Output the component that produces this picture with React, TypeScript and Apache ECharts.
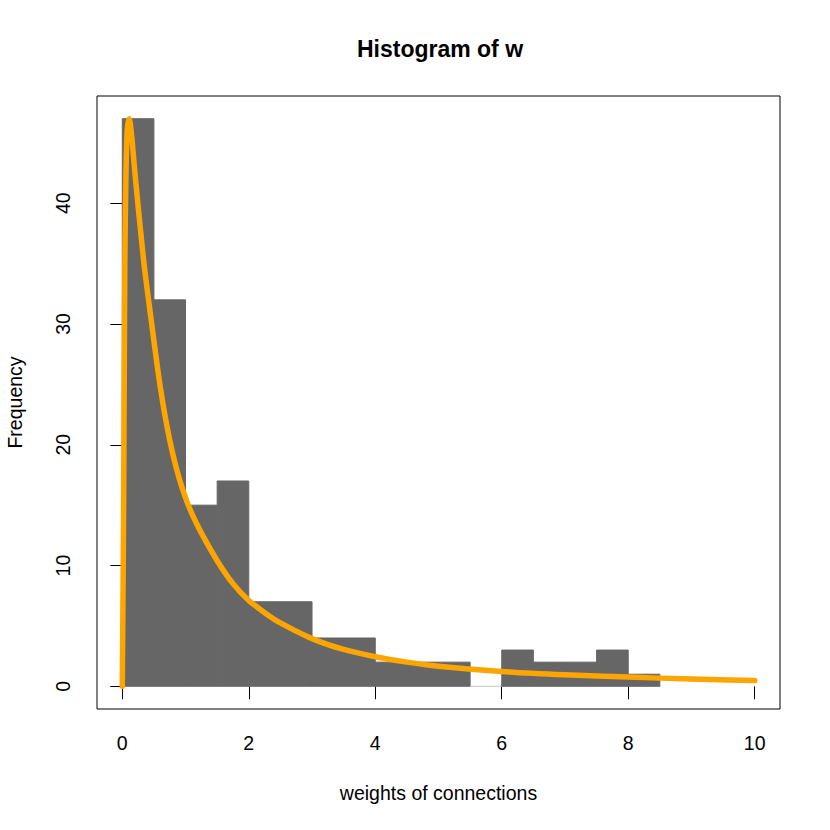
import React, { useEffect, useRef } from "react";
import * as echarts from "echarts";

// Histogram bin breaks and counts
const breaks = [0, 0.5, 1, 1.5, 2, 2.5, 3, 3.5, 4, 4.5, 5, 5.5, 6, 6.5, 7, 7.5, 8, 8.5];
const counts = [47, 32, 15, 17, 7, 7, 4, 4, 2, 2, 2, 0, 3, 2, 2, 3, 1];

// Fitted curve
const curveX = [0, 0.02, 0.04, 0.06, 0.08, 0.11, 0.14, 0.2, 0.27, 0.35, 0.44, 0.5, 0.6, 0.7, 0.8, 0.9, 1.0, 1.1, 1.25, 1.5, 1.75, 2.0, 2.25, 2.5, 3.0, 3.5, 4.0, 4.5, 5.0, 6.0, 7.0, 8.0, 9.0, 10.0];
const curveY = [0, 14, 35, 43, 46.2, 47, 46, 42.5, 38.7, 34.7, 31.0, 28.6, 24.8, 21.7, 19.2, 17.2, 15.6, 14.3, 12.7, 10.4, 8.5, 7.1, 6.1, 5.25, 3.95, 3.05, 2.45, 2.0, 1.66, 1.22, 0.95, 0.76, 0.6, 0.47];

const xTicks = [0, 2, 4, 6, 8, 10];
const yTicks = [0, 10, 20, 30, 40];

const titleText = "Histogram of w";
const xLabel = "weights of connections";
const yLabel = "Frequency";

const FONT = '"Liberation Sans", Arial, Helvetica, sans-serif';

export default function App() {
  const ref = useRef<HTMLDivElement>(null);
  useEffect(() => {
    if (!ref.current) return;
    const chart = echarts.init(ref.current, null, { renderer: "svg" });
    const histData = counts.map((c, i) => [breaks[i], breaks[i + 1], c]);
    const lineData = curveX.map((x, i) => [x, curveY[i]]);
    chart.setOption({
      animation: false,
      backgroundColor: "#ffffff",
      grid: {
        left: 97,
        top: 96,
        width: 683,
        height: 613,
        show: true,
        borderColor: "#000000",
        borderWidth: 1,
        backgroundColor: "transparent",
        z: 10,
      },
      xAxis: {
        type: "value",
        min: -0.4,
        max: 10.4,
        axisLine: { show: false },
        splitLine: { show: false },
        axisTick: {
          show: true,
          inside: false,
          length: 13,
          customValues: xTicks,
          lineStyle: { color: "#000000", width: 1 },
        },
        axisLabel: {
          show: true,
          customValues: xTicks,
          margin: 24,
          color: "#000000",
          fontSize: 19.5,
          fontFamily: FONT,
        },
      },
      yAxis: {
        type: "value",
        min: -1.88,
        max: 48.88,
        axisLine: { show: false },
        splitLine: { show: false },
        axisTick: {
          show: true,
          inside: false,
          length: 12,
          customValues: yTicks,
          lineStyle: { color: "#000000", width: 1 },
        },
        axisLabel: {
          show: true,
          customValues: yTicks,
          rotate: 90,
          margin: 24,
          color: "#000000",
          fontSize: 19.5,
          fontFamily: FONT,
        },
      },
      graphic: [
        {
          type: "text",
          x: 440,
          y: 49,
          style: {
            text: titleText,
            textAlign: "center",
            textVerticalAlign: "middle",
            font: `bold 23px ${FONT}`,
            fill: "#000000",
          },
        },
        {
          type: "text",
          x: 438.5,
          y: 793,
          style: {
            text: xLabel,
            textAlign: "center",
            textVerticalAlign: "middle",
            font: `19.5px ${FONT}`,
            fill: "#000000",
          },
        },
        {
          type: "text",
          x: 15,
          y: 402.5,
          rotation: Math.PI / 2,
          style: {
            text: yLabel,
            textAlign: "center",
            textVerticalAlign: "middle",
            font: `19.5px ${FONT}`,
            fill: "#000000",
          },
        },
      ],
      series: [
        {
          type: "custom",
          z: 2,
          data: histData,
          encode: { x: [0, 1], y: 2 },
          renderItem: (params: any, api: any) => {
            const x0 = api.value(0);
            const x1 = api.value(1);
            const c = api.value(2);
            const p0 = api.coord([x0, c]);
            const p1 = api.coord([x1, 0]);
            if (c === 0) {
              return {
                type: "line",
                shape: { x1: p0[0], y1: p1[1], x2: p1[0], y2: p1[1] },
                style: { stroke: "#c4c4c4", lineWidth: 1 },
              };
            }
            return {
              type: "rect",
              shape: { x: p0[0], y: p0[1], width: p1[0] - p0[0], height: p1[1] - p0[1] },
              style: { fill: "#666666", stroke: "#666666", lineWidth: 1 },
            };
          },
        },
        {
          type: "line",
          z: 3,
          data: lineData,
          showSymbol: false,
          symbol: "none",
          smooth: 0.3,
          lineStyle: { color: "#FFA500", width: 5.5, cap: "round", join: "round" },
        },
      ],
    });
    return () => chart.dispose();
  }, []);
  return (
    <div
      ref={ref}
      style={{ position: "fixed", left: 0, top: 0, width: 830, height: 830, background: "#fff" }}
    />
  );
}
